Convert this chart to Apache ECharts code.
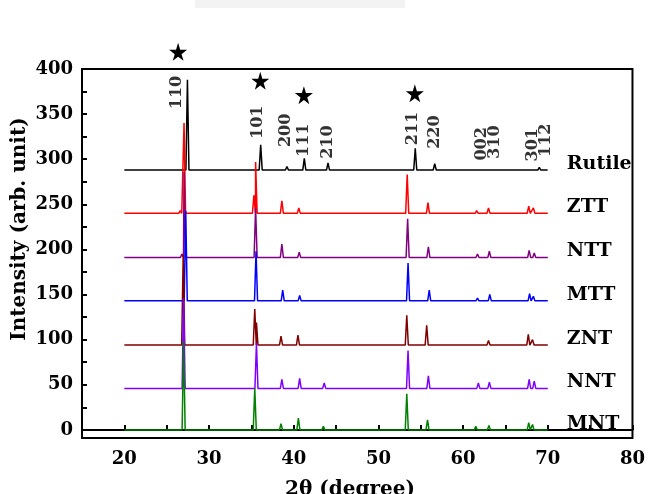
<!DOCTYPE html>
<html>
<head>
<meta charset="utf-8">
<script src="https://cdn.jsdelivr.net/npm/echarts@6/dist/echarts.min.js"></script>
<style>
  html, body { margin: 0; padding: 0; background: #fff; }
  #chart { width: 648px; height: 494px; }
</style>
</head>
<body>
<div id="chart"></div>
<script>
// sample names, top to bottom, and the vertical offset of each pattern
var names = ["Rutile", "ZTT", "NTT", "MTT", "ZNT", "NNT", "MNT"];
var offsets = [288, 240, 191, 143, 94, 46, 0];
var colors = ["#000000", "#ff0000", "#800080", "#0000ff", "#800000", "#8000ff", "#008000"];

// peaks: [2theta, height above baseline]
var peaksRutile = [[22.1, 1], [24.7, 1], [27.45, 100], [36.1, 28], [39.2, 4], [41.25, 13], [44.05, 8], [48.2, 1],
  [54.35, 24], [56.65, 7], [62.8, 2], [64.05, 2], [69.0, 3], [69.8, 2]];
var peaksZTT = [[21.5, 1], [22.5, 1.5], [23.2, 1], [25.1, 1], [26.6, 3], [27.05, 100], [35.3, 20], [35.5, 57],
  [38.6, 14], [40.6, 6], [43.5, 2], [53.4, 43], [55.85, 12], [61.6, 3], [63.0, 6], [67.75, 8], [68.3, 6]];
var peaksNTT = [[26.8, 4], [27.05, 95], [35.5, 55], [38.6, 15], [40.65, 6], [43.6, 1], [53.45, 43], [55.9, 12],
  [61.7, 4], [63.1, 7], [67.8, 8], [68.4, 5]];
var peaksMTT = [[23.5, 1], [25.0, 1], [27.25, 100], [35.55, 55], [38.7, 12], [40.7, 6], [43.6, 2], [53.5, 42],
  [56.0, 12], [61.7, 3], [63.15, 7], [67.85, 8], [68.3, 5]];
var peaksZNT = [[24.0, 1], [26.95, 100], [29.0, 1], [31.5, 1], [35.4, 40], [35.6, 25], [38.5, 10], [40.5, 11],
  [43.5, 2], [45.6, 1], [47.5, 1], [49.5, 1], [53.35, 33], [55.7, 22], [58.0, 1], [61.6, 2], [63.0, 5],
  [65.0, 1], [67.7, 12], [68.2, 6]];
var peaksNNT = [[27.0, 100], [35.6, 50], [38.6, 10], [40.7, 11], [43.6, 6], [53.5, 42], [55.9, 14], [61.8, 6],
  [63.1, 7], [67.8, 10], [68.4, 8]];
var peaksMNT = [[22.3, 1], [25.6, 1], [27.0, 98], [35.4, 46], [38.5, 7], [40.55, 13], [43.5, 4], [53.35, 40],
  [55.8, 11], [61.5, 4], [63.05, 5], [67.75, 8], [68.2, 6]];
var peakSets = [peaksRutile, peaksZTT, peaksNTT, peaksMTT, peaksZNT, peaksNNT, peaksMNT];

var scanStart = 20, scanEnd = 70;

// rutile reflections (labels) and the marked peaks (stars)
var hklNames = ["110", "101", "200", "111", "210", "211", "220", "002", "310", "301", "112"];
var hklX = [26.23, 35.82, 39.09, 41.2, 44.0, 54.06, 56.64, 62.25, 63.77, 68.22, 69.74];
var hklY = [374, 341, 332, 321, 319, 334, 330, 317, 319, 316, 321];
var starX = [26.35, 36.05, 41.2, 54.3];
var starY = [419, 387, 371, 373];

var yLabels = [0, 50, 100, 150, 200, 250, 300, 350, 400];
var yTicks = [0, 25, 50, 75, 100, 125, 150, 175, 200, 225, 250, 275, 300, 325, 350, 375, 400];

var boldSerif = "DejaVu Serif";

function profile(peaks, base) {
  var pts = [[scanStart, base]];
  peaks.forEach(function (p) {
    pts.push([p[0] - 0.18, base]);
    pts.push([p[0], base + p[1]]);
    pts.push([p[0] + 0.18, base]);
  });
  pts.push([scanEnd, base]);
  return pts;
}

var series = names.map(function (n, i) {
  return {
    name: n,
    type: "line",
    data: profile(peakSets[i], offsets[i]),
    showSymbol: false,
    symbol: "none",
    lineStyle: { color: colors[i], width: 1.5 },
    z: 2 + i,
    markPoint: {
      symbol: "circle",
      symbolSize: 0,
      data: [{ coord: [scanEnd, offsets[i]] }],
      label: {
        show: true,
        position: "right",
        offset: [14, -6],
        formatter: n,
        color: "#000",
        fontFamily: boldSerif,
        fontWeight: "bold",
        fontSize: 19
      }
    }
  };
});

series.push({
  type: "scatter",
  clip: false,
  symbolSize: 0,
  data: hklNames.map(function (t, i) { return [hklX[i], hklY[i], t]; }),
  label: {
    show: true,
    position: "inside",
    rotate: 90,
    formatter: function (p) { return p.data[2]; },
    color: "#000",
    fontFamily: boldSerif,
    fontWeight: "bold",
    fontSize: 16
  },
  z: 20
});

series.push({
  type: "scatter",
  clip: false,
  symbol: "path://M50,0 L61,35 L98,35 L68,57 L79,91 L50,70 L21,91 L32,57 L2,35 L39,35 Z",
  symbolSize: 18,
  itemStyle: { color: "#000", opacity: 1 },
  data: starX.map(function (x, i) { return [x, starY[i]]; }),
  z: 20
});

var myChart = echarts.init(document.getElementById("chart"));
var option = {
  animation: false,
  backgroundColor: "#fff",
  grid: {
    left: 82, right: 10, top: 69, bottom: 56,
    show: true, borderColor: "#000", borderWidth: 2
  },
  xAxis: {
    type: "value",
    min: 15,
    max: 80,
    interval: 5,
    axisLine: { lineStyle: { color: "#000", width: 2 } },
    axisTick: { inside: true, length: 5, lineStyle: { color: "#000", width: 2 } },
    splitLine: { show: false },
    axisLabel: {
      margin: 12,
      color: "#000",
      fontFamily: boldSerif,
      fontWeight: "bold",
      fontSize: 18,
      formatter: function (v) { return v % 10 === 0 && v >= 20 ? String(v) : ""; }
    }
  },
  yAxis: {
    type: "value",
    min: -9,
    max: 400,
    axisLine: { show: true, lineStyle: { color: "#000", width: 2 } },
    axisTick: { show: true, inside: true, length: 5, customValues: yTicks, lineStyle: { color: "#000", width: 2 } },
    splitLine: { show: false },
    axisLabel: {
      customValues: yLabels,
      margin: 9,
      color: "#000",
      fontFamily: boldSerif,
      fontWeight: "bold",
      fontSize: 18
    }
  },
  graphic: [
    { type: "rect", shape: { x: 195, y: 0, width: 210, height: 8 }, style: { fill: "#f3f3f3" } },
    {
      type: "text", x: 20, y: 229, rotation: Math.PI / 2,
      style: {
        text: "Intensity (arb. unit)", textAlign: "center", textVerticalAlign: "middle",
        font: "bold 20px 'DejaVu Serif'", fill: "#000"
      }
    },
    {
      type: "text", x: 350, y: 480,
      style: {
        text: "2θ (degree)", textAlign: "center", textVerticalAlign: "top",
        font: "bold 20px 'DejaVu Serif'", fill: "#000"
      }
    }
  ],
  series: series
};
myChart.setOption(option, true);
</script>
</body>
</html>
